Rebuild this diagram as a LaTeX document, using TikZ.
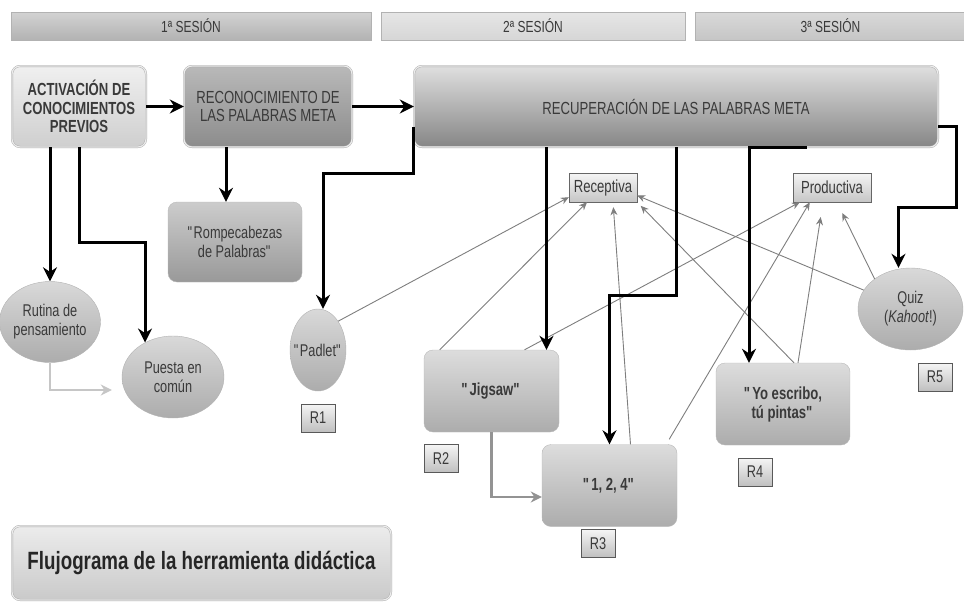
\documentclass[tikz,border=0pt]{standalone}
\usepackage{fontspec}
\setmainfont{Liberation Sans}[FakeStretch=0.75]
\usetikzlibrary{arrows.meta,shapes.geometric}

\definecolor{txt}{HTML}{3A3A3A}
\definecolor{gline}{HTML}{7E7E7E}
\newcommand\qd{\textquotedbl}

\tikzset{
  sesbar/.style={rectangle,draw=gray!60,minimum height=28pt,font=\fontsize{16}{18}\selectfont},
  stage/.style={rounded corners=8pt,draw=gray!70,double=white!85!gray,double distance=1.2pt,
    minimum height=81pt,font=\fontsize{17.5}{18.5}\selectfont},
  oval/.style={ellipse,draw=gray!60,top color=gray!30,bottom color=gray!65,inner xsep=-8pt,
    font=\fontsize{17}{19}\selectfont},
  task/.style={rounded corners=9pt,draw=gray!55,top color=gray!27,bottom color=gray!65,
    minimum width=135pt,minimum height=82pt,font=\bfseries\fontsize{17.5}{19}\selectfont},
  tag/.style={rectangle,draw=gray!130,top color=gray!8,bottom color=gray!50,
    minimum width=34pt,minimum height=28pt,font=\fontsize{17}{18}\selectfont},
  skill/.style={rectangle,draw=gray!120,top color=gray!8,bottom color=gray!45,
    minimum height=29pt,inner xsep=3pt,font=\fontsize{17.5}{19}\selectfont},
  blk/.style={line width=3pt,-{Stealth[length=14pt,width=14pt]}},
  thin/.style={draw=gline,line width=0.9pt,-{Stealth[length=8pt,width=7pt]}},
  thick/.style={draw=gray!85,line width=2.2pt,-{Stealth[length=11pt,width=11pt]}}
}

\begin{document}
\begin{tikzpicture}[x=1pt,y=-1pt,every node/.style={text=txt,align=center,inner sep=0pt}]
  \useasboundingbox (0,0) rectangle (964,603);

  \node[sesbar,minimum width=360pt,top color=gray!35,bottom color=gray!60] (ses1) at (191,26) {1ª SESIÓN};
  \node[sesbar,minimum width=304pt,top color=gray!20,bottom color=gray!32] (ses2) at (533,26) {2ª SESIÓN};
  \node[sesbar,minimum width=271pt,top color=gray!30,bottom color=gray!45] (ses3) at (830.5,26) {3ª SESIÓN};

  \node[stage,minimum width=134pt,top color=gray!12,bottom color=gray!38,font=\bfseries\fontsize{17.5}{18.5}\selectfont] (act) at (79,106.5) {ACTIVACIÓN DE\\CONOCIMIENTOS\\PREVIOS};
  \node[stage,minimum width=168pt,top color=gray!55,bottom color=gray!90] (rec) at (268,106.5) {RECONOCIMIENTO DE\\LAS PALABRAS META};
  \node[stage,minimum width=524pt,top color=gray!25,bottom color=gray!95] (recu) at (676,106.5) {RECUPERACIÓN DE LAS PALABRAS META};

  \node[task,minimum width=134pt,minimum height=80pt,top color=gray!40,bottom color=gray!80,font=\fontsize{17}{19}\selectfont] (rompe) at (235,242) {\qd Rompecabezas\\de Palabras\qd};

  \node[oval,minimum width=101pt,minimum height=81pt] (rut) at (50,322) {Rutina de\\pensamiento};
  \node[oval,minimum width=102pt,minimum height=82pt] (pue) at (173,377) {Puesta en\\común};
  \node[oval,minimum width=56pt,minimum height=82pt,inner xsep=-12pt] (pad) at (318,350) {\qd Padlet\qd};
  \node[oval,minimum width=105pt,minimum height=82pt] (quiz) at (910.5,309) {Quiz\\(\textit{Kahoot}!)};

  \node[task] (jig) at (491.5,391) {\qd Jigsaw\qd};
  \node[task] (t124) at (609.5,485.5) {\qd 1, 2, 4\qd};
  \node[task,minimum width=134pt] (yo) at (783,404) {\qd Yo escribo,\\tú pintas\qd};

  \node[tag] (r1) at (318,418) {R1};
  \node[tag] (r2) at (441,458.5) {R2};
  \node[tag] (r3) at (598,543.5) {R3};
  \node[tag] (r4) at (755,472) {R4};
  \node[tag] (r5) at (935,377) {R5};

  \node[skill,minimum width=68pt] (recep) at (603,187.5) {Receptiva};
  \node[skill,minimum width=78pt] (produ) at (832,187.5) {Productiva};

  \node[stage,minimum width=379pt,minimum height=74pt,top color=gray!15,bottom color=gray!42,
    font=\bfseries\fontsize{25}{28}\selectfont,text=black!85] (fluj) at (201.5,563) {Flujograma de la herramienta didáctica};

  \draw[thin] (pad.55) -- ([yshift=5pt]recep.south west);
  \draw[thin] ([xshift=16pt]jig.north west) -- ([xshift=-16pt]recep.south);
  \draw[thin,shorten >=5pt] ([xshift=21pt]t124.north) -- ([xshift=10pt]recep.south);
  \draw[thin,shorten >=5pt] ([xshift=11pt]yo.north) -- (recep.south east);
  \draw[thin] (quiz.158) -- ([yshift=-8pt]recep.east);
  \draw[thin] ([xshift=33pt]jig.north) -- ([xshift=7pt]produ.south west);
  \draw[thin] ([xshift=-8pt,yshift=5pt]t124.north east) -- ([xshift=17pt]produ.south west);
  \draw[thin,shorten >=15pt] ([xshift=15pt]yo.north) -- ([xshift=-9pt]produ.south);
  \draw[thin,shorten >=12pt] (quiz.140) -- ([xshift=5pt]produ.south);

  \draw[blk] (act) -- (rec);
  \draw[blk] (rec) -- (recu);
  \draw[blk] (act.south -| rut.north) -- (rut.north);
  \draw[blk] (act.south) -- ++(0,95) -| (pue.129);
  \draw[blk] ([xshift=-9pt]rompe.north |- rec.south) -- ([xshift=-9pt]rompe.north);
  \draw[blk] ([yshift=-20pt]recu.west) -- ++(0,47) -| ([xshift=5pt]pad.north);
  \draw[blk] ([xshift=55pt]jig.north |- recu.south) -- ([xshift=55pt]jig.north);
  \draw[blk] (recu.south) -- ++(0,148) -| (t124.north);
  \draw[blk] ([xshift=131pt]recu.south) -| ([xshift=-34pt]yo.north);
  \draw[blk] ([yshift=-20pt]recu.east) -- ++(18,0) -- ++(0,81) -| ([xshift=-12pt]quiz.north);

  \draw[thick] (jig.south) |- ([yshift=-11.5pt]t124.west);
  \draw[thick,draw=gray!45] (rut.south) |- ([xshift=-10pt,yshift=-13pt]pue.west);
\end{tikzpicture}
\end{document}
